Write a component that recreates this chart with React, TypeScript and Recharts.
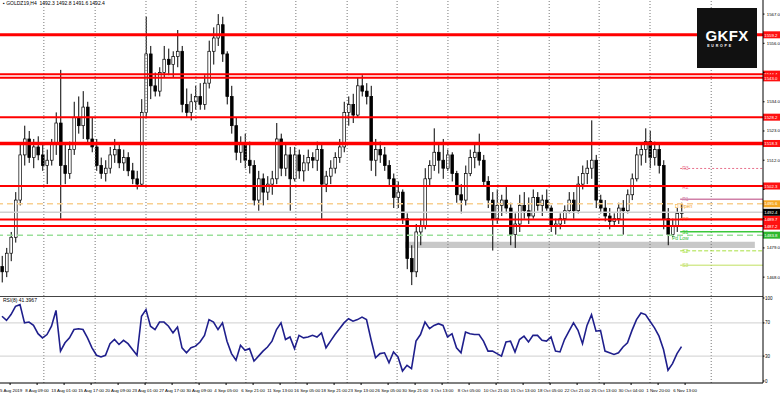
import React from "react";
import { ComposedChart, Bar, Line, XAxis, YAxis, ReferenceLine, ReferenceArea } from "recharts";

// GOLD H4 candles, one entry per plotted candle
const opens = [
  1472, 1470, 1477, 1483, 1497, 1514, 1520, 1513, 1517, 1514,
  1510, 1512, 1518, 1526, 1510, 1507, 1516, 1528, 1525, 1532,
  1520, 1517, 1510, 1507, 1509, 1514, 1516, 1511, 1513, 1508,
  1505, 1503, 1530, 1552, 1540, 1538, 1545, 1550, 1548, 1551,
  1553, 1533, 1530, 1534, 1536, 1533, 1541, 1553, 1558, 1563,
  1552, 1536, 1525, 1515, 1518, 1512, 1510, 1497, 1505, 1500,
  1503, 1505, 1520, 1509, 1514, 1505, 1514, 1508, 1511, 1513,
  1512, 1516, 1503, 1506, 1509, 1513, 1517, 1530, 1533, 1529,
  1540, 1538, 1536, 1512, 1516, 1514, 1510, 1505, 1498, 1500,
  1490, 1475, 1470, 1485, 1487, 1505, 1510, 1515, 1512, 1509,
  1514, 1507, 1499, 1497, 1507, 1513, 1515, 1512, 1504, 1497,
  1490, 1495, 1497, 1494, 1484, 1488, 1495, 1493, 1491, 1498,
  1495, 1497, 1494, 1487, 1488, 1490, 1493, 1497, 1493, 1503,
  1507, 1509, 1512, 1497, 1494, 1491, 1489, 1490, 1494, 1493,
  1499, 1505, 1514, 1516, 1519, 1513, 1516, 1510, 1490, 1484,
  1487, 1492,
];
const highs = [
  1476, 1479, 1485, 1500, 1518, 1525, 1523, 1520, 1521, 1518,
  1516, 1520, 1530, 1546, 1518, 1519, 1534, 1536, 1538, 1534,
  1528, 1520, 1513, 1512, 1517, 1520, 1518, 1516, 1515, 1511,
  1508, 1535, 1566, 1555, 1545, 1547, 1555, 1554, 1553, 1561,
  1555, 1539, 1537, 1540, 1541, 1544, 1557, 1562, 1567, 1566,
  1553, 1540, 1528, 1521, 1522, 1519, 1512, 1508, 1507, 1506,
  1508, 1526, 1522, 1518, 1517, 1517, 1516, 1514, 1516, 1515,
  1519, 1518, 1508, 1512, 1515, 1520, 1534, 1536, 1537, 1543,
  1544, 1541, 1540, 1520, 1519, 1517, 1512, 1507, 1504, 1501,
  1492, 1480, 1488, 1490, 1509, 1512, 1524, 1518, 1520, 1516,
  1515, 1508, 1503, 1510, 1516, 1518, 1522, 1514, 1506, 1500,
  1501, 1499, 1502, 1496, 1492, 1499, 1500, 1498, 1501, 1500,
  1499, 1501, 1495, 1490, 1492, 1495, 1500, 1500, 1506, 1510,
  1512, 1527, 1514, 1499, 1497, 1494, 1492, 1496, 1497, 1501,
  1507, 1517, 1518, 1524, 1523, 1519, 1518, 1512, 1494, 1490,
  1494, 1496,
];
const lows = [
  1466, 1468, 1474, 1481, 1495, 1510, 1511, 1509, 1512, 1508,
  1503, 1510, 1514, 1490, 1503, 1505, 1514, 1522, 1520, 1518,
  1515, 1508, 1505, 1504, 1507, 1511, 1509, 1508, 1506, 1503,
  1501, 1502, 1528, 1535, 1536, 1536, 1543, 1544, 1543, 1547,
  1530, 1528, 1527, 1531, 1531, 1531, 1539, 1548, 1555, 1549,
  1533, 1522, 1512, 1511, 1509, 1507, 1495, 1493, 1495, 1497,
  1499, 1503, 1506, 1506, 1493, 1504, 1505, 1504, 1508, 1509,
  1508, 1490, 1500, 1503, 1507, 1511, 1515, 1525, 1526, 1528,
  1536, 1533, 1508, 1506, 1511, 1508, 1502, 1494, 1494, 1488,
  1471, 1465, 1468, 1480, 1486, 1502, 1508, 1507, 1505, 1508,
  1504, 1496, 1492, 1495, 1506, 1509, 1510, 1502, 1494, 1478,
  1488, 1491, 1492, 1480, 1479, 1485, 1490, 1488, 1490, 1493,
  1491, 1493, 1485, 1484, 1486, 1488, 1492, 1490, 1492, 1501,
  1503, 1505, 1494, 1492, 1489, 1486, 1487, 1488, 1484, 1492,
  1497, 1504, 1510, 1511, 1509, 1510, 1507, 1486, 1480, 1483,
  1485, 1490,
];
const closes = [
  1470, 1477, 1483, 1497, 1514, 1520, 1513, 1517, 1514, 1510,
  1512, 1518, 1526, 1510, 1507, 1516, 1528, 1525, 1532, 1520,
  1517, 1510, 1507, 1509, 1514, 1516, 1511, 1513, 1508, 1505,
  1503, 1530, 1552, 1540, 1538, 1545, 1550, 1548, 1551, 1553,
  1533, 1530, 1534, 1536, 1533, 1541, 1553, 1558, 1563, 1552,
  1536, 1525, 1515, 1518, 1512, 1510, 1497, 1505, 1500, 1503,
  1505, 1520, 1509, 1514, 1505, 1514, 1508, 1511, 1513, 1512,
  1516, 1503, 1506, 1509, 1513, 1517, 1530, 1533, 1529, 1540,
  1538, 1536, 1512, 1516, 1514, 1510, 1505, 1498, 1500, 1490,
  1475, 1470, 1485, 1487, 1505, 1510, 1515, 1512, 1509, 1514,
  1507, 1499, 1497, 1507, 1513, 1515, 1512, 1504, 1497, 1490,
  1495, 1497, 1494, 1484, 1488, 1495, 1493, 1491, 1498, 1495,
  1497, 1494, 1487, 1488, 1490, 1493, 1497, 1493, 1503, 1507,
  1509, 1512, 1497, 1494, 1491, 1489, 1490, 1494, 1493, 1499,
  1505, 1514, 1516, 1519, 1513, 1516, 1510, 1490, 1484, 1487,
  1492, 1492.4,
];
const rsiValues = [
  78, 73, 80, 90, 92, 70, 71, 67, 57, 52,
  56, 66, 85, 36, 46, 52, 62, 63, 62, 52,
  40, 31, 29, 31, 45, 50, 44, 49, 45, 38,
  31, 78, 86, 66, 62, 71, 71, 66, 58, 65,
  40, 34, 40, 42, 47, 55, 74, 71, 62, 70,
  48, 33, 25, 43, 37, 39, 24, 30, 36, 41,
  48, 62, 70, 50, 53, 39, 55, 52, 53, 55,
  53, 58, 40, 48, 56, 63, 70, 75, 72, 74,
  77, 74, 50, 28, 33, 34, 22, 35, 29, 12,
  19, 15, 48, 56, 71, 63, 67, 69, 67, 53,
  57, 40, 34, 59, 57, 56, 56, 48, 36, 36,
  33, 30, 47, 48, 35, 50, 54, 47, 55, 55,
  49, 48, 53, 36, 35, 50, 60, 70, 61, 45,
  67, 80, 60, 61, 36, 34, 32, 34, 41, 46,
  61, 74, 82, 80, 72, 64, 54, 38, 13, 21,
  33, 41.4,
];

const timeTicks = [1.8, 7.8, 13.8, 19.8, 25.8, 31.8, 37.8, 43.8, 49.8, 55.8, 61.8, 67.8, 73.8, 79.8, 85.8, 91.8, 97.8, 103.8, 109.8, 115.8, 121.8, 127.8, 133.8, 139.8, 145.8, 151.8];
const timeLabels = [
  "5 Aug 2019", "8 Aug 09:00", "13 Aug 01:00", "15 Aug 17:00", "20 Aug 09:00", "23 Aug 01:00",
  "27 Aug 17:00", "30 Aug 09:00", "4 Sep 05:00", "6 Sep 21:00", "11 Sep 13:00", "16 Sep 05:00",
  "18 Sep 21:00", "23 Sep 13:00", "26 Sep 05:00", "30 Sep 21:00", "3 Oct 13:00", "8 Oct 05:00",
  "10 Oct 21:00", "15 Oct 13:00", "18 Oct 05:00", "22 Oct 21:00", "25 Oct 13:00", "30 Oct 04:00",
  "1 Nov 20:00", "6 Nov 13:00",
];
const gridX = [9.3, 20.7, 32, 43.1, 54.2, 65.3, 76.7, 87.8, 99.1, 110.2, 121.6, 132.7, 144, 157.6];
const priceTicks = [1462.5, 1468, 1473.5, 1479, 1484.5, 1490, 1495.5, 1501, 1506.5, 1512, 1517.5, 1523, 1528.5, 1534, 1539.5, 1545, 1550.5, 1556, 1561.5, 1567];
const rsiTicks = [0, 30, 70, 100];

// support / resistance levels drawn across the chart
const redLevels = [
  { price: 1559.2, width: 3 },
  { price: 1544.4, width: 2 },
  { price: 1543.0, width: 2 },
  { price: 1528.2, width: 2 },
  { price: 1518.3, width: 3.5 },
  { price: 1502.3, width: 2 },
  { price: 1489.7, width: 2 },
  { price: 1487.2, width: 2 },
];
const dailyOpen = 1495.6;
const bidPrice = 1492.4;
const prevLow = 1483.8;
const zone = [1479.0, 1481.3];
const pivots = [
  { name: "R3", price: 1508.9, color: "#e8708c", dash: "2 2", width: 1 },
  { name: "R2", price: 1501.0, color: "#e8708c", dash: undefined, width: 0 },
  { name: "R1", price: 1497.3, color: "#d080a8", dash: undefined, width: 1.5 },
  { name: "PP", price: 1489.9, color: "#ff9c70", dash: undefined, width: 2 },
  { name: "S1", price: 1485.1, color: "#3cc83c", dash: undefined, width: 1.5 },
  { name: "S2", price: 1477.9, color: "#a8e040", dash: "4 2", width: 1 },
  { name: "S3", price: 1472.5, color: "#c0e060", dash: undefined, width: 1 },
];

const candles = opens.map((o, i) => ({ i, open: o, high: highs[i], low: lows[i], close: closes[i] }));
const rsiRows = rsiValues.map((v, i) => ({ i, rsi: v }));
const taggedPrices = [...redLevels.map((l) => l.price), dailyOpen, bidPrice, prevLow];

const X_DOMAIN = [-0.444, 169.11];
const FONT = "'Liberation Sans', Arial, sans-serif";

const Candle = (props: any) => {
  const { x, y, width, height, payload } = props;
  if (!payload) return null;
  const { open, close, high, low } = payload;
  const cx = x + width / 2;
  const span = high - low || 1;
  const top = y + ((high - Math.max(open, close)) / span) * height;
  const bot = y + ((high - Math.min(open, close)) / span) * height;
  const up = close >= open;
  return (
    <g>
      <line x1={cx} x2={cx} y1={y} y2={y + height} stroke="#000" strokeWidth={1} />
      <rect x={cx - 1.4} y={top} width={2.8} height={Math.max(bot - top, 0.8)} fill={up ? "#fff" : "#000"} stroke="#000" strokeWidth={0.7} />
    </g>
  );
};

// price tick hidden only where a coloured price tag sits right on it
const PriceTick = (props: any) => {
  const { x, y, payload } = props;
  const v = payload.value;
  if (taggedPrices.some((p) => Math.abs(p - v) < 1.6)) return null;
  return (
    <text x={x + 0.3} y={y + 1.5} fontSize={4.3} fill="#000" fontFamily={FONT}>{v.toFixed(1)}</text>
  );
};

const TimeTick = (props: any) => {
  const { x, y, index } = props;
  const first = index === 0;
  return (
    <text x={first ? 0 : x} y={y + 5} fontSize={4.4} fill="#000" fontFamily={FONT} textAnchor={first ? "start" : "middle"}>
      {timeLabels[index]}
    </text>
  );
};

const PriceTag = (props: any) => {
  const { viewBox, text, color, textColor = "#fff" } = props;
  if (!viewBox) return null;
  const x = viewBox.x + viewBox.width;
  const y = viewBox.y;
  return (
    <g>
      <rect x={x} y={y - 3.5} width={17} height={7} fill={color} />
      <text x={x + 1.3} y={y + 1.7} fontSize={4.3} fill={textColor} fontFamily={FONT}>{text}</text>
    </g>
  );
};

const PivotTag = (props: any) => {
  const { viewBox, text, color, dy = 2 } = props;
  if (!viewBox) return null;
  return (
    <text x={viewBox.x + 2} y={viewBox.y + dy} fontSize={5} fill={color} fontFamily={FONT}>{text}</text>
  );
};

export default function App() {
  return (
    <div style={{ position: "absolute", left: 0, top: 0, width: 780, height: 393, background: "#fff", fontFamily: FONT, overflow: "hidden" }}>
      <ComposedChart width={780} height={296} data={candles} margin={{ top: 0, right: 0, left: 0, bottom: 0 }}>
        <XAxis dataKey="i" type="number" domain={X_DOMAIN} allowDataOverflow hide />
        <YAxis
          orientation="right"
          type="number"
          domain={[1460.9, 1572.3]}
          allowDataOverflow
          ticks={priceTicks}
          width={17}
          tick={<PriceTick />}
          tickSize={1.5}
          axisLine={{ stroke: "#000" }}
          tickLine={{ stroke: "#000" }}
        />
        {gridX.map((gx) => (
          <ReferenceLine key={gx} x={gx} stroke="#777" strokeDasharray="1 2" />
        ))}
        <ReferenceArea x1={89.6} x2={167.3} y1={zone[0]} y2={zone[1]} fill="#c8c8c8" fillOpacity={1} stroke="none" />
        <Bar dataKey={(d: any) => [d.low, d.high]} barSize={3} shape={<Candle />} isAnimationActive={false} />
        <ReferenceLine y={dailyOpen} stroke="#f8cf90" strokeWidth={1.5} strokeDasharray="6 4"
          label={<PriceTag text={dailyOpen.toFixed(1)} color="#f5a623" />} />
        <ReferenceLine y={bidPrice} stroke="#d0d0d0" strokeWidth={1.5}
          label={<PriceTag text={bidPrice.toFixed(1)} color="#000" />} />
        <ReferenceLine y={prevLow} stroke="#9be09b" strokeWidth={1.5} strokeDasharray="6 4"
          label={<PriceTag text={prevLow.toFixed(1)} color="#2fb82f" />} />
        {pivots.map((p) => (
          <ReferenceLine
            key={p.name}
            segment={[{ x: 150.7, y: p.price }, { x: 169.11, y: p.price }]}
            stroke={p.color}
            strokeWidth={p.width}
            strokeOpacity={p.width ? 1 : 0}
            strokeDasharray={p.dash}
            label={<PivotTag text={p.name} color={p.color} dy={p.name === "R2" ? 0 : 2} />}
          />
        ))}
        {redLevels.map((l) => (
          <ReferenceLine key={l.price} y={l.price} stroke="#ff0000" strokeWidth={l.width}
            label={<PriceTag text={l.price.toFixed(1)} color="#ff1010" />} />
        ))}
      </ComposedChart>

      <ComposedChart width={780} height={97} data={rsiRows} margin={{ top: 0, right: 0, left: 0, bottom: 0 }}>
        <XAxis
          dataKey="i"
          type="number"
          domain={X_DOMAIN}
          allowDataOverflow
          ticks={timeTicks}
          interval={0}
          height={10}
          tick={<TimeTick />}
          tickSize={2}
          axisLine={{ stroke: "#000" }}
          tickLine={{ stroke: "#000" }}
        />
        <YAxis
          orientation="right"
          type="number"
          domain={[-2.4, 102.4]}
          allowDataOverflow
          ticks={rsiTicks}
          width={17}
          tick={{ fontSize: 4.5, fill: "#000", fontFamily: FONT }}
          tickSize={1.5}
          tickMargin={0.5}
          axisLine={{ stroke: "#000" }}
          tickLine={{ stroke: "#000" }}
        />
        {gridX.map((gx) => (
          <ReferenceLine key={gx} x={gx} stroke="#777" strokeDasharray="1 2" />
        ))}
        <ReferenceLine y={70} stroke="#cfcfcf" />
        <ReferenceLine y={30} stroke="#cfcfcf" />
        <ReferenceLine y={102.4} stroke="#444" strokeWidth={2} />
        <Line type="linear" dataKey="rsi" stroke="#1f1f8c" strokeWidth={1.6} dot={false} isAnimationActive={false} />
      </ComposedChart>

      <div style={{ position: "absolute", left: 3, top: 0, fontSize: 5, color: "#000", whiteSpace: "nowrap" }}>
        ▪ GOLDZ19,H4&nbsp; 1492.3 1492.8 1491.6 1492.4
      </div>
      <div style={{ position: "absolute", left: 3, top: 297, fontSize: 5, color: "#000", whiteSpace: "nowrap" }}>
        RSI(8) 41.3967
      </div>
      <div style={{ position: "absolute", left: 675, top: 203, fontSize: 5, color: "#f5a623", whiteSpace: "nowrap" }}>D.Open</div>
      <div style={{ position: "absolute", left: 672, top: 235, fontSize: 5, color: "#2fb82f", whiteSpace: "nowrap" }}>Pd Low</div>
      <div style={{ position: "absolute", left: 697, top: 8, width: 60, height: 60, background: "#111", color: "#fff", textAlign: "center" }}>
        <div style={{ fontSize: 15, fontWeight: 700, marginTop: 21, lineHeight: "14px", height: 14, letterSpacing: 0.3 }}>GKFX</div>
        <div style={{ fontSize: 3.5, fontWeight: 700, letterSpacing: 1.8, lineHeight: "5px", marginTop: 1, marginLeft: -14 }}>EUROPE</div>
      </div>
    </div>
  );
}
